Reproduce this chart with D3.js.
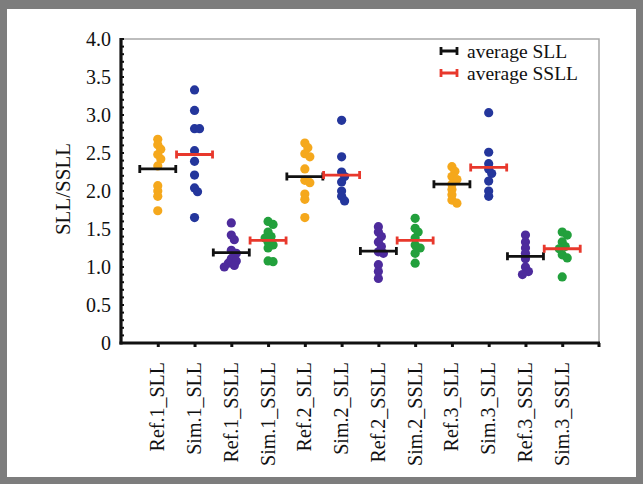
<!DOCTYPE html>
<html>
<head>
<meta charset="utf-8">
<script src="https://cdn.jsdelivr.net/npm/d3@7"></script>
<style>
  body { margin: 0; background: #fff; }
  svg { display: block; }
  svg text { font-family: "Liberation Serif", "Times New Roman", "DejaVu Serif", serif !important; fill: #111; }
</style>
</head>
<body>
<svg id="chart" width="643" height="484"></svg>
<script>
// ---- data ----
const categories = ["Ref.1_SLL", "Sim.1_SLL", "Ref.1_SSLL", "Sim.1_SSLL",
                    "Ref.2_SLL", "Sim.2_SLL", "Ref.2_SSLL", "Sim.2_SSLL",
                    "Ref.3_SLL", "Sim.3_SLL", "Ref.3_SSLL", "Sim.3_SSLL"];

const ref1SLL  = [2.68, 2.61, 2.55, 2.48, 2.42, 2.33, 2.07, 2.00, 1.93, 1.74];
const sim1SLL  = [3.33, 3.06, 2.82, 2.82, 2.53, 2.39, 2.21, 2.04, 1.99, 1.65];
const ref1SSLL = [1.58, 1.42, 1.36, 1.22, 1.18, 1.11, 1.08, 1.05, 1.02, 1.00];
const sim1SSLL = [1.60, 1.56, 1.46, 1.40, 1.38, 1.33, 1.29, 1.25, 1.08, 1.07];
const ref2SLL  = [2.63, 2.57, 2.49, 2.45, 2.29, 2.14, 2.11, 1.96, 1.89, 1.65];
const sim2SLL  = [2.93, 2.45, 2.25, 2.19, 2.12, 2.00, 1.93, 1.87];
const ref2SSLL = [1.53, 1.46, 1.40, 1.33, 1.27, 1.20, 1.18, 1.03, 0.94, 0.85];
const sim2SSLL = [1.64, 1.51, 1.46, 1.38, 1.29, 1.25, 1.18, 1.05];
const ref3SLL  = [2.32, 2.26, 2.19, 2.15, 2.09, 2.02, 1.95, 1.88, 1.84];
const sim3SLL  = [3.03, 2.51, 2.36, 2.29, 2.23, 2.13, 2.00, 1.93];
const ref3SSLL = [1.42, 1.33, 1.25, 1.18, 1.11, 1.00, 0.94, 0.90];
const sim3SSLL = [1.46, 1.42, 1.33, 1.27, 1.24, 1.16, 1.12, 0.87];

const series = [ref1SLL, sim1SLL, ref1SSLL, sim1SSLL,
                ref2SLL, sim2SLL, ref2SSLL, sim2SSLL,
                ref3SLL, sim3SLL, ref3SSLL, sim3SSLL];

const averages = [2.29, 2.48, 1.19, 1.35, 2.19, 2.21, 1.21, 1.35, 2.09, 2.31, 1.14, 1.24];

const yTicks = [0, 0.5, 1.0, 1.5, 2.0, 2.5, 3.0, 3.5, 4.0];
const legendLabels = ["average SLL", "average SSLL"];

// ---- styles ----
const FONT = '"Liberation Serif", "Times New Roman", serif';
const pointColor = { refSLL: "#f5a81c", simSLL: "#24369c", refSSLL: "#4d2b9c", simSSLL: "#22a03c" };
const barColor = { Ref: "#111111", Sim: "#e8382c" };
const kindOf = (c) => (c.startsWith("Ref") ? "ref" : "sim") + (c.endsWith("SSLL") ? "SSLL" : "SLL");

const svg = d3.select("#chart").attr("font-family", FONT);

// outer grey frame
svg.append("rect").attr("x", 0).attr("y", 0).attr("width", 643).attr("height", 484).attr("fill", "#7d7d7d");
svg.append("rect").attr("x", 7).attr("y", 9).attr("width", 629).attr("height", 468).attr("fill", "#fff");

const plot = { left: 121, right: 599, top: 39, bottom: 343 };

const x = d3.scalePoint()
  .domain(categories)
  .range([plot.left, plot.right])
  .padding(1);

const y = d3.scaleLinear()
  .domain([0, 4])
  .range([plot.bottom, plot.top]);

// thin top / right border
svg.append("path")
  .attr("d", `M${plot.left},${plot.top}H${plot.right}V${plot.bottom}`)
  .attr("fill", "none").attr("stroke", "#a8a8a8").attr("stroke-width", 1.5);

// y axis
const yAxis = svg.append("g")
  .attr("transform", `translate(${plot.left},0)`)
  .call(d3.axisLeft(y).tickValues(yTicks).tickSize(0).tickPadding(10)
          .tickFormat(d => d === 0 ? "0" : d3.format(".1f")(d)));
yAxis.attr("font-family", FONT).attr("font-size", 20);
yAxis.select(".domain").remove();
yAxis.selectAll("text").attr("fill", "#111");

// minor tick dots on the y axis
svg.append("g").selectAll("line")
  .data(d3.range(0, 40.5, 1).map(i => i / 10))
  .join("line")
    .attr("x1", plot.left).attr("x2", plot.left + 3)
    .attr("y1", d => y(d)).attr("y2", d => y(d))
    .attr("stroke", "#111").attr("stroke-width", 2);

svg.append("line")
  .attr("x1", plot.left).attr("x2", plot.left)
  .attr("y1", plot.top - 1).attr("y2", plot.bottom + 1.5)
  .attr("stroke", "#111").attr("stroke-width", 3.2);

// x axis
const xAxis = svg.append("g")
  .attr("transform", `translate(0,${plot.bottom})`)
  .call(d3.axisBottom(x).tickSize(4).tickPadding(0));
xAxis.attr("font-family", FONT).attr("font-size", 20);
xAxis.select(".domain").remove();
xAxis.selectAll(".tick line").attr("stroke", "#111").attr("stroke-width", 3);
xAxis.selectAll("text")
  .attr("fill", "#111")
  .attr("text-anchor", "end")
  .attr("transform", "translate(6,19) rotate(-90)")
  .attr("dy", 0).attr("y", 0).attr("x", 0);

svg.append("line")
  .attr("x1", plot.left - 1.5).attr("x2", plot.right + 1)
  .attr("y1", plot.bottom).attr("y2", plot.bottom)
  .attr("stroke", "#111").attr("stroke-width", 3.2);
svg.append("line")
  .attr("x1", plot.right).attr("x2", plot.right)
  .attr("y1", plot.bottom).attr("y2", plot.bottom + 4)
  .attr("stroke", "#111").attr("stroke-width", 3);

// y label
svg.append("text")
  .attr("transform", `translate(70,${(plot.top + plot.bottom) / 2 - 2}) rotate(-90)`)
  .attr("text-anchor", "middle")
  .attr("font-size", 21)
  .text("SLL/SSLL");

// ---- points, nudged sideways a little where they would overlap ----
const r = 4.6;
const offsets = [0, 3, -3, 5, -5, 7, -7];
const points = [];
categories.forEach((c, ci) => {
  const placed = [];
  series[ci].forEach(v => {
    const py = y(v);
    let dx = offsets[offsets.length - 1];
    for (const o of offsets) {
      if (placed.every(p => Math.hypot(p.dx - o, p.py - py) >= 4.6)) { dx = o; break; }
    }
    placed.push({ dx, py });
    points.push({ c, v, dx });
  });
});

svg.append("g").selectAll("circle")
  .data(points)
  .join("circle")
    .attr("cx", d => x(d.c) + d.dx)
    .attr("cy", d => y(d.v))
    .attr("r", r)
    .attr("fill", d => pointColor[kindOf(d.c)]);

// ---- average bars ----
const half = 18, cap = 4;
const bars = svg.append("g").selectAll("g")
  .data(categories.map((c, i) => ({ c, v: averages[i] })))
  .join("g")
    .attr("stroke", d => barColor[d.c.slice(0, 3)])
    .attr("stroke-width", 2.8)
    .attr("fill", "none");
bars.append("path")
  .attr("d", d => {
    const cx = x(d.c), cy = y(d.v);
    return `M${cx - half},${cy}H${cx + half}M${cx - half},${cy - cap}V${cy + cap}M${cx + half},${cy - cap}V${cy + cap}`;
  });

// ---- legend ----
const legend = svg.append("g").attr("transform", "translate(441,51)");
legendLabels.forEach((t, i) => {
  const g = legend.append("g").attr("transform", `translate(0,${i * 22})`);
  g.append("path")
    .attr("d", `M0,0H16M0,-4V4M16,-4V4`)
    .attr("fill", "none")
    .attr("stroke", i === 0 ? barColor.Ref : barColor.Sim)
    .attr("stroke-width", 2.8);
  g.append("text")
    .attr("x", 26).attr("y", 6.5)
    .attr("font-size", 19.5)
    .text(t);
});
</script>
</body>
</html>
